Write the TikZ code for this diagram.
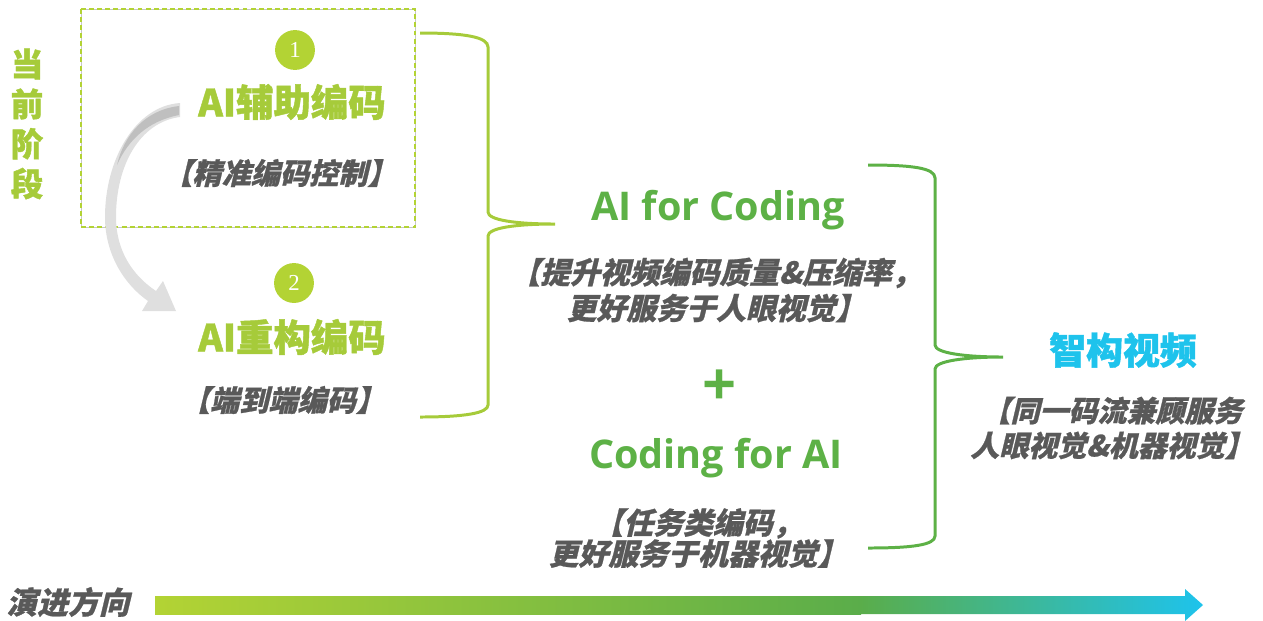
\documentclass[tikz,border=0pt]{standalone}
\usepackage{fontspec}
\setmainfont{Open Sans}
\newfontfamily\cjk{Noto Sans CJK SC}[BoldFeatures={FakeBold=1.2}]
\newfontfamily\cjksl{Noto Sans CJK SC}[FakeSlant=0.24, BoldFeatures={FakeBold=0.8}]
\newfontfamily\osans{Open Sans}
\newfontfamily\numfont{Liberation Serif}
\definecolor{lime}{HTML}{A6CB3A}
\definecolor{limec}{HTML}{B3D334}
\definecolor{grn}{HTML}{5DB146}
\definecolor{grnd}{HTML}{5AAD4A}
\definecolor{cyn}{HTML}{1EC3EC}
\definecolor{txtgray}{HTML}{595959}
\tikzset{
  ttl/.style={font=\cjk\bfseries\fontsize{21.3}{24}\selectfont, text=lime, inner sep=0pt},
  subt/.style={font=\cjksl\bfseries\fontsize{16.6}{20.4}\selectfont, text=txtgray, align=center, inner sep=0pt},
  numc/.style={circle, fill=limec, minimum size=22.7pt, inner sep=0pt, text=white, font=\numfont\fontsize{13}{13}\selectfont},
  entitle/.style={font=\osans\bfseries\fontsize{22.5}{26}\selectfont, text=grn, inner sep=0pt},
  brace1/.style={draw=lime, line width=1.7pt},
  brace2/.style={draw=grn, line width=1.7pt},
}
\begin{document}
\begin{tikzpicture}[x=0.02cm, y=-0.02cm]
\useasboundingbox (0,0) rectangle (1263,620);
% stage label
\node[font=\cjk\bfseries\fontsize{18.5}{22.7}\selectfont, text=lime, align=center, inner sep=0pt] (stage) at (27,124) {当\\前\\阶\\段};
% dashed box
\draw[gray!45, line width=0.4pt] (81,9) rectangle (415,227);
\draw[limec, line width=1.2pt, dash pattern=on 2.8pt off 1.8pt] (81,9) rectangle (415,227);
% gray curved arrow
\fill[gray!25] (180,103) .. controls (135,106) and (105,160) .. (105,217)
  .. controls (105,255) and (125,285) .. (148,301) -- (142,311) -- (176,311) -- (163,281) -- (156,291)
  .. controls (132,275) and (116,250) .. (116,217)
  .. controls (116,165) and (140,122) .. (180,117) -- cycle;
\fill[gray!50] (179,106) .. controls (145,110) and (124,135) .. (117,165)
  .. controls (128,140) and (148,121) .. (179,115) -- cycle;
% left column
\node[numc] (n1) at (295,50) {1};
\node[ttl] (t1) at (292,102) {AI辅助编码};
\node[subt] (s1) at (280,173) {【精准编码控制】};
\node[numc] (n2) at (294,283) {2};
\node[ttl] (t2) at (292,337) {AI重构编码};
\node[subt] (s2) at (283,400) {【端到端编码】};
% brace 1
\coordinate (b1a) at (420,33);
\coordinate (b1tip) at (555,224);
\coordinate (b1b) at (420,417);
\draw[brace1] (b1a) .. controls (465,33) and (488,37) .. (488,47) -- (488,212)
  .. controls (488,220) and (515,224) .. (b1tip)
  .. controls (515,224) and (488,228) .. (488,236) -- (488,405)
  .. controls (488,413) and (465,417) .. (b1b);
% middle column
\node[entitle] (afc) at (718,210) {AI for Coding};
\node[subt, font=\cjksl\bfseries\fontsize{17}{20.4}\selectfont] (afcs) at (716,290) {【提升视频编码质量\&压缩率，\\更好服务于人眼视觉】};
\node[font=\osans\bfseries\fontsize{34}{34}\selectfont, text=grn, inner sep=0pt] (plus) at (720,388) {+};
\node[entitle] (cfa) at (716,458) {Coding for AI};
\node[subt, font=\cjksl\bfseries\fontsize{17}{17.6}\selectfont] (cfas) at (698,538) {【任务类编码，\\更好服务于机器视觉】};
% brace 2
\coordinate (b2a) at (868,165);
\coordinate (b2tip) at (1003,357);
\coordinate (b2b) at (868,548);
\draw[brace2] (b2a) .. controls (912,165) and (935,168) .. (935,178) -- (935,345)
  .. controls (935,353) and (965,357) .. (b2tip)
  .. controls (965,357) and (935,361) .. (935,369) -- (935,536)
  .. controls (935,545) and (912,548) .. (b2b);
% right column
\node[font=\cjk\bfseries\fontsize{21}{24}\selectfont, text=cyn, inner sep=0pt] (zhi) at (1123,350) {智构视频};
\node[subt, font=\cjksl\bfseries\fontsize{16.5}{19.8}\selectfont] (zhis) at (1112,428) {【同一码流兼顾服务\\人眼视觉\&机器视觉】};
% bottom arrow
\node[font=\cjksl\bfseries\fontsize{17.5}{20}\selectfont, text=txtgray, inner sep=0pt] (yj) at (68,602) {演进方向};
\shade[left color=limec, right color=grnd] (155,596) rectangle (861,614);
\shade[left color=grnd, right color=cyn]
  (860,596) -- (1185,596) -- (1185,589) -- (1203,605) -- (1185,621) -- (1185,614) -- (860,614) -- cycle;
\end{tikzpicture}
\end{document}
